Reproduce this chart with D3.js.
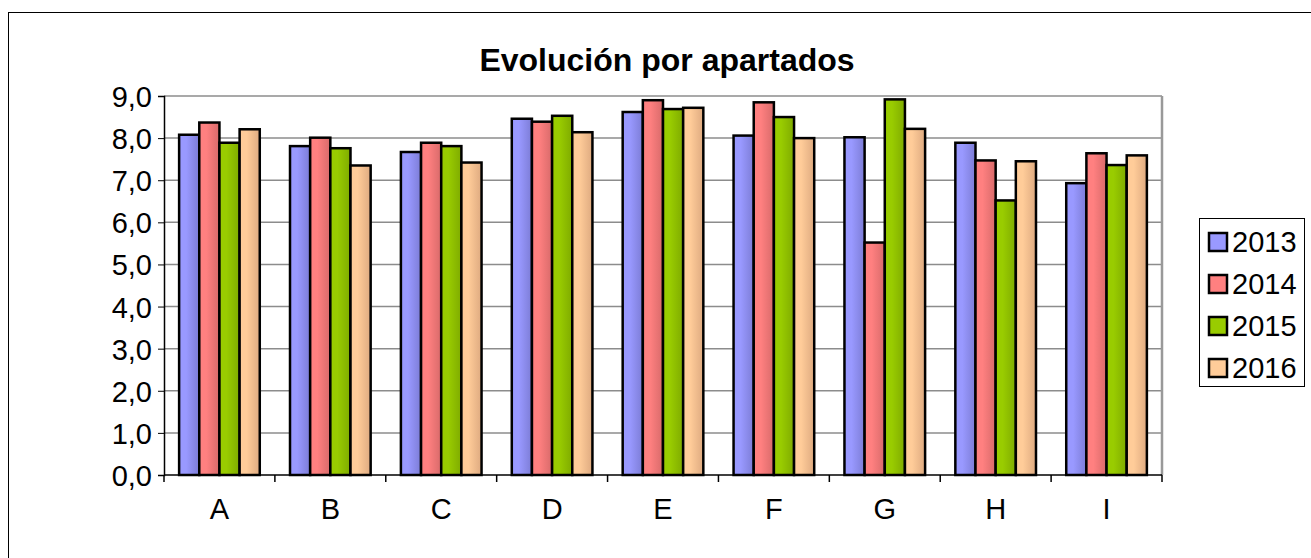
<!DOCTYPE html>
<html>
<head>
<meta charset="utf-8">
<script src="https://cdn.jsdelivr.net/npm/d3@7"></script>
<style>
  body { margin: 0; background: #fff; }
  svg { display: block; font-family: "Liberation Sans", Arial, sans-serif; }
</style>
</head>
<body>
<script>
// data
var categories = ["A", "B", "C", "D", "E", "F", "G", "H", "I"];
var years = ["2013", "2014", "2015", "2016"];
var v2013 = [8.08, 7.81, 7.67, 8.46, 8.62, 8.06, 8.02, 7.89, 6.93];
var v2014 = [8.37, 8.01, 7.89, 8.39, 8.90, 8.85, 5.52, 7.47, 7.64];
var v2015 = [7.89, 7.76, 7.81, 8.53, 8.69, 8.50, 8.92, 6.52, 7.36];
var v2016 = [8.21, 7.35, 7.42, 8.14, 8.72, 8.00, 8.22, 7.45, 7.59];
var yTicks = [0, 1, 2, 3, 4, 5, 6, 7, 8, 9];

var series = [v2013, v2014, v2015, v2016];
var colors = ["#9999ff", "#ff8080", "#99cc00", "#ffcc99"];
var darker = ["#7c7cd6", "#d86a6a", "#7fab00", "#deaa80"];

var width = 1311, height = 558,
    plotLeft = 164, plotRight = 1162, plotTop = 96, plotBottom = 475;

var svg = d3.select("body").append("svg")
    .attr("width", width)
    .attr("height", height);

// gradients for the shaded bars
var defs = svg.append("defs");
years.forEach(function(y, i) {
  var g = defs.append("linearGradient")
      .attr("id", "grad" + i)
      .attr("x1", "0%").attr("x2", "100%").attr("y1", "0%").attr("y2", "0%");
  g.append("stop").attr("offset", "0%").attr("stop-color", colors[i]);
  g.append("stop").attr("offset", "35%").attr("stop-color", colors[i]);
  g.append("stop").attr("offset", "100%").attr("stop-color", darker[i]);
});

// outer chart border
svg.append("rect")
    .attr("x", 8.5).attr("y", 12.5)
    .attr("width", 1320).attr("height", 600)
    .attr("fill", "none").attr("stroke", "#000").attr("stroke-width", 1);

var x0 = d3.scaleBand().domain(categories).range([plotLeft, plotRight]);
var x1 = d3.scaleBand().domain(years).range([0, x0.bandwidth()]).paddingOuter(0.75);
var y = d3.scaleLinear().domain([0, 9]).range([plotBottom, plotTop]);

// gridlines
svg.append("g").selectAll("line")
    .data(yTicks.slice(1))
  .enter().append("line")
    .attr("x1", plotLeft).attr("x2", plotRight)
    .attr("y1", function(d) { return y(d); })
    .attr("y2", function(d) { return y(d); })
    .attr("stroke", "#8c8c8c").attr("stroke-width", 1.5);

// plot area right edge
svg.append("line")
    .attr("x1", plotRight).attr("x2", plotRight)
    .attr("y1", plotTop).attr("y2", plotBottom)
    .attr("stroke", "#999").attr("stroke-width", 2.5);

// bars
var groups = svg.append("g").selectAll("g")
    .data(categories)
  .enter().append("g")
    .attr("transform", function(d) { return "translate(" + x0(d) + ",0)"; });

groups.selectAll("rect")
    .data(function(c, ci) { return years.map(function(yr, si) { return {year: yr, i: si, value: series[si][ci]}; }); })
  .enter().append("rect")
    .attr("x", function(d) { return x1(d.year); })
    .attr("width", x1.bandwidth())
    .attr("y", function(d) { return y(d.value); })
    .attr("height", function(d) { return y(0) - y(d.value); })
    .attr("fill", function(d) { return "url(#grad" + d.i + ")"; })
    .attr("stroke", "#000").attr("stroke-width", 2.5);

// y axis
var yAxis = d3.axisLeft(y)
    .tickValues(yTicks)
    .tickSize(6)
    .tickFormat(function(d) { return d3.format(".1f")(d).replace(".", ","); });

var ya = svg.append("g")
    .attr("transform", "translate(" + plotLeft + ",0)")
    .call(yAxis);
ya.select(".domain").attr("stroke", "#000").attr("stroke-width", 1.5);
ya.selectAll(".tick line").attr("stroke", "#000");
ya.selectAll("text")
    .attr("font-size", 29)
    .attr("font-family", "Liberation Sans, Arial, sans-serif")
    .attr("fill", "#000")
    .attr("x", -12)
    .attr("dy", "0.36em");

// x axis
var xa = svg.append("g")
    .attr("transform", "translate(0," + plotBottom + ")");
xa.append("line")
    .attr("x1", plotLeft).attr("x2", plotRight)
    .attr("stroke", "#000").attr("stroke-width", 1.5);
xa.selectAll(".cat-tick")
    .data(categories.map(function(c) { return x0(c); }).concat([plotRight]))
  .enter().append("line")
    .attr("class", "cat-tick")
    .attr("x1", function(d) { return d; }).attr("x2", function(d) { return d; })
    .attr("y1", 0).attr("y2", 7)
    .attr("stroke", "#000").attr("stroke-width", 1.5);
xa.selectAll("text")
    .data(categories)
  .enter().append("text")
    .attr("x", function(d) { return x0(d) + x0.bandwidth() / 2; })
    .attr("y", 44)
    .attr("text-anchor", "middle")
    .attr("font-size", 29)
    .text(function(d) { return d; });

// title
svg.append("text")
    .attr("x", 667).attr("y", 71)
    .attr("text-anchor", "middle")
    .attr("font-size", 32)
    .attr("font-weight", "bold")
    .text("Evolución por apartados");

// legend
var lg = svg.append("g");
lg.append("rect")
    .attr("x", 1199.5).attr("y", 218.5)
    .attr("width", 105).attr("height", 168)
    .attr("fill", "#fff").attr("stroke", "#000").attr("stroke-width", 1);

var item = lg.selectAll(".item")
    .data(years)
  .enter().append("g")
    .attr("class", "item")
    .attr("transform", function(d, i) { return "translate(1209," + (233 + i * 42) + ")"; });
item.append("rect")
    .attr("width", 18).attr("height", 18)
    .attr("fill", function(d, i) { return colors[i]; })
    .attr("stroke", "#000").attr("stroke-width", 2.5);
item.append("text")
    .attr("x", 23).attr("y", 19)
    .attr("font-size", 29)
    .text(function(d) { return d; });
</script>
</body>
</html>
